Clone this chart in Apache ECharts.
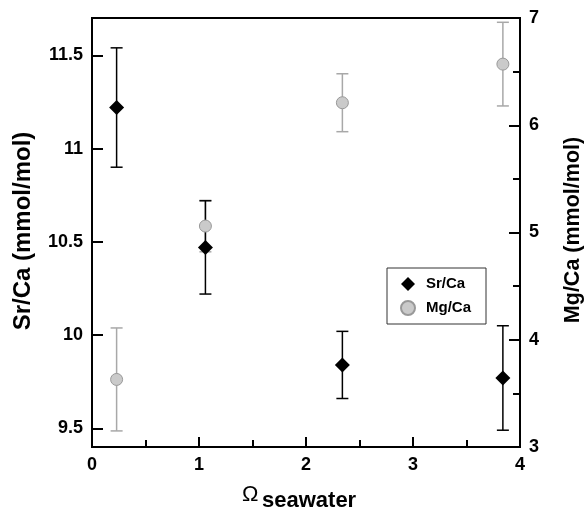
<!DOCTYPE html>
<html>
<head>
<meta charset="utf-8">
<script src="https://cdn.jsdelivr.net/npm/echarts@6/dist/echarts.min.js"></script>
<style>html,body{margin:0;padding:0;background:#fff}#c{width:588px;height:507px}</style>
</head>
<body>
<div id="c"></div>
<script>
const omega = [0.23, 1.06, 2.34, 3.84];
const srCa = [11.22, 10.47, 9.84, 9.77];
const srErr = [0.32, 0.25, 0.18, 0.28];
const mgCa = [3.63, 5.06, 6.21, 6.57];
const mgErr = [0.48, 0.24, 0.27, 0.39];
const srTicks = [9.5, 10, 10.5, 11, 11.5];
const seriesNames = ['Sr/Ca', 'Mg/Ca'];
const leftTitle = 'Sr/Ca (mmol/mol)';
const rightTitle = 'Mg/Ca (mmol/mol)';
const xTitleMain = 'Ω';
const xTitleSub = 'seawater';

const FONT = "'Liberation Sans', Arial, sans-serif";
const chart = echarts.init(document.getElementById('c'), null, {renderer: 'canvas'});

function errorRender(color, capW) {
  return function (params, api) {
    const x = api.value(0), lo = api.value(1), hi = api.value(2);
    const a = api.coord([x, lo]), b = api.coord([x, hi]);
    const style = {stroke: color, lineWidth: 1.5};
    return {type: 'group', children: [
      {type: 'line', shape: {x1: a[0], y1: a[1], x2: b[0], y2: b[1]}, style: style},
      {type: 'line', shape: {x1: a[0] - capW / 2, y1: a[1], x2: a[0] + capW / 2, y2: a[1]}, style: style},
      {type: 'line', shape: {x1: b[0] - capW / 2, y1: b[1], x2: b[0] + capW / 2, y2: b[1]}, style: style}
    ]};
  };
}

const srData = omega.map((x, i) => [x, srCa[i]]);
const mgData = omega.map((x, i) => [x, mgCa[i]]);
const srErrData = omega.map((x, i) => [x, srCa[i] - srErr[i], srCa[i] + srErr[i]]);
const mgErrData = omega.map((x, i) => [x, mgCa[i] - mgErr[i], mgCa[i] + mgErr[i]]);

const labelStyle = {color: '#000', fontFamily: FONT, fontWeight: 'bold', fontSize: 18};

chart.setOption({
  animation: false,
  backgroundColor: '#fff',
  grid: {left: 92, right: 68, top: 18, bottom: 60, show: true, borderColor: '#000', borderWidth: 2, backgroundColor: 'transparent'},
  legend: {
    data: [{name: seriesNames[0], icon: 'diamond'}, {name: seriesNames[1], icon: 'circle'}],
    orient: 'vertical',
    left: 387, top: 268,
    padding: [8, 15, 8, 13],
    itemGap: 8,
    itemWidth: 14, itemHeight: 14,
    borderColor: '#333', borderWidth: 1,
    backgroundColor: '#fff',
    textStyle: {fontFamily: FONT, fontWeight: 'bold', fontSize: 15, color: '#000', lineHeight: 16, padding: [0, 0, 0, 6]}
  },
  xAxis: {
    type: 'value', min: 0, max: 4, interval: 1,
    axisLine: {show: true, lineStyle: {color: '#000', width: 2}},
    axisTick: {show: true, inside: true, length: 10, lineStyle: {color: '#000', width: 2}},
    minorTick: {show: true, splitNumber: 2, length: 7, lineStyle: {color: '#000', width: 2}},
    axisLabel: Object.assign({margin: 9}, labelStyle),
    splitLine: {show: false}
  },
  yAxis: [
    {
      type: 'value', min: 9.4, max: 11.7, position: 'left',
      axisLine: {show: true, lineStyle: {color: '#000', width: 2}},
      axisTick: {show: true, inside: true, length: 11, customValues: srTicks, lineStyle: {color: '#000', width: 2}},
      axisLabel: Object.assign({margin: 9, customValues: srTicks}, labelStyle),
      splitLine: {show: false}
    },
    {
      type: 'value', min: 3, max: 7, interval: 1, position: 'right',
      axisLine: {show: true, lineStyle: {color: '#000', width: 2}},
      axisTick: {show: true, inside: true, length: 11, lineStyle: {color: '#000', width: 2}},
      minorTick: {show: true, splitNumber: 2, length: 7, lineStyle: {color: '#000', width: 2}},
      axisLabel: Object.assign({margin: 9}, labelStyle),
      splitLine: {show: false}
    }
  ],
  graphic: [
    {type: 'text', x: 23, y: 231, rotation: Math.PI / 2,
     style: {text: leftTitle, fontFamily: FONT, fontWeight: 'bold', fontSize: 24, fill: '#000', align: 'center', verticalAlign: 'middle'}},
    {type: 'text', x: 573, y: 230, rotation: Math.PI / 2,
     style: {text: rightTitle, fontFamily: FONT, fontWeight: 'bold', fontSize: 21.5, fill: '#000', align: 'center', verticalAlign: 'middle'}},
    {type: 'text', x: 242, y: 506,
     style: {text: xTitleMain, fontFamily: FONT, fontWeight: 'normal', fontSize: 22, fill: '#000', align: 'left', verticalAlign: 'bottom'}},
    {type: 'text', x: 262, y: 512,
     style: {text: xTitleSub, fontFamily: FONT, fontWeight: 'bold', fontSize: 22, fill: '#000', align: 'left', verticalAlign: 'bottom'}}
  ],
  series: [
    {type: 'custom', name: 'mgErr', yAxisIndex: 1, data: mgErrData, encode: {x: 0, y: [1, 2]},
     renderItem: errorRender('#a8a8a8', 12), z: 1, silent: true},
    {type: 'custom', name: 'srErr', yAxisIndex: 0, data: srErrData, encode: {x: 0, y: [1, 2]},
     renderItem: errorRender('#000', 12), z: 2, silent: true},
    {type: 'scatter', name: 'Mg/Ca', yAxisIndex: 1, data: mgData, symbol: 'circle', symbolSize: 12,
     itemStyle: {color: '#cacaca', borderColor: '#999', borderWidth: 1, opacity: 1}, z: 3},
    {type: 'scatter', name: 'Sr/Ca', yAxisIndex: 0, data: srData, symbol: 'diamond', symbolSize: 15,
     itemStyle: {color: '#000', opacity: 1}, z: 4}
  ]
});
</script>
</body>
</html>
